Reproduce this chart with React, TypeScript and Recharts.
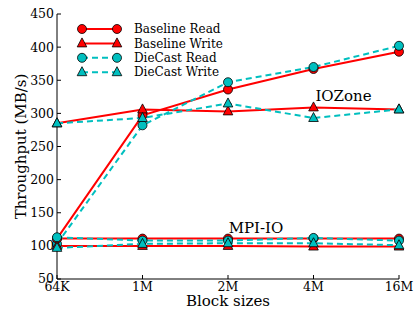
import React from 'react';
import { LineChart, Line, XAxis, YAxis, Legend, ReferenceDot, Label } from 'recharts';

// block sizes on the x axis
const blockSizes = ['64K', '1M', '2M', '4M', '16M'];
const yTicks = [50, 100, 150, 200, 250, 300, 350, 400, 450];

// IOZone runs
const iozoneBaselineRead = [111, 297, 336, 367, 393];
const iozoneBaselineWrite = [285, 306, 303, 309, 306];
const iozoneDiecastRead = [103, 282, 347, 370, 402];
const iozoneDiecastWrite = [285, 293, 315, 293, 306];

// MPI-IO runs
const mpiBaselineRead = [111, 111, 111, 111, 111];
const mpiBaselineWrite = [100, 100, 100, 99, 99];
const mpiDiecastRead = [113, 108, 108, 112, 108];
const mpiDiecastWrite = [97, 103, 104, 104, 101];

const seriesNames = ['Baseline Read', 'Baseline Write', 'DieCast Read', 'DieCast Write'];

const RED = '#ff0000';
const CYAN = '#00bfbf';
const FONT = '"DejaVu Serif", serif';

const rows = blockSizes.map((size, i) => ({
  size,
  ioBR: iozoneBaselineRead[i],
  ioBW: iozoneBaselineWrite[i],
  ioDR: iozoneDiecastRead[i],
  ioDW: iozoneDiecastWrite[i],
  mpiBR: mpiBaselineRead[i],
  mpiBW: mpiBaselineWrite[i],
  mpiDR: mpiDiecastRead[i],
  mpiDW: mpiDiecastWrite[i],
}));

const styles = [
  { color: RED, dash: undefined, marker: 'circle' },
  { color: RED, dash: undefined, marker: 'triangle' },
  { color: CYAN, dash: '6 4', marker: 'circle' },
  { color: CYAN, dash: '6 4', marker: 'triangle' },
];

const series = [
  { key: 'ioBR', style: 0 },
  { key: 'ioBW', style: 1 },
  { key: 'ioDR', style: 2 },
  { key: 'ioDW', style: 3 },
  { key: 'mpiBR', style: 0 },
  { key: 'mpiBW', style: 1 },
  { key: 'mpiDR', style: 2 },
  { key: 'mpiDW', style: 3 },
];

if (typeof document !== 'undefined') document.body.style.margin = '0';

const Triangle = ({ cx, cy, fill }: { cx: number; cy: number; fill: string }) => (
  <polygon
    points={`${cx},${cy - 5.5} ${cx + 4.8},${cy + 3.5} ${cx - 4.8},${cy + 3.5}`}
    fill={fill}
    stroke="#000"
    strokeWidth={0.8}
  />
);

const Marker = ({ cx, cy, fill, shape }: { cx: number; cy: number; fill: string; shape: string }) =>
  shape === 'circle' ? (
    <circle cx={cx} cy={cy} r={4.5} fill={fill} stroke="#000" strokeWidth={0.8} />
  ) : (
    <Triangle cx={cx} cy={cy} fill={fill} />
  );

const renderLegend = () => (
  <svg width={150} height={64}>
    {seriesNames.map((name, i) => {
      const s = styles[i];
      const y = 7 + i * 14.4;
      return (
        <g key={name}>
          <line x1={6} x2={41} y1={y} y2={y} stroke={s.color} strokeWidth={2} strokeDasharray={s.dash} />
          <Marker cx={6} cy={y} fill={s.color} shape={s.marker} />
          <Marker cx={41} cy={y} fill={s.color} shape={s.marker} />
          <text x={58} y={y} dy="0.35em" fontSize={12} fontFamily={FONT} fill="#000">
            {name}
          </text>
        </g>
      );
    })}
  </svg>
);

const tickStyle = { fill: '#000', fontSize: 12.5, fontFamily: FONT };

export default function App() {
  return (
    <LineChart width={416} height={309} data={rows} margin={{ top: 14, right: 17, bottom: 0, left: 0 }}>
      <XAxis
        dataKey="size"
        interval={0}
        height={30}
        tickSize={-4}
        tickMargin={7}
        axisLine={{ stroke: '#000' }}
        tickLine={{ stroke: '#000' }}
        tick={tickStyle}
      >
        <Label value="Block sizes" position="insideBottom" offset={3} fontSize={15} fontFamily={FONT} fill="#000" />
      </XAxis>
      <XAxis
        xAxisId="top"
        dataKey="size"
        orientation="top"
        interval={0}
        height={0}
        tickSize={-4}
        axisLine={{ stroke: '#000' }}
        tickLine={{ stroke: '#000' }}
        tickFormatter={() => ''}
      />
      <YAxis
        width={57}
        domain={[50, 450]}
        ticks={yTicks}
        interval={0}
        tickSize={-4}
        tickMargin={7}
        axisLine={{ stroke: '#000' }}
        tickLine={{ stroke: '#000' }}
        tick={tickStyle}
      >
        <Label value="Throughput (MB/s)" angle={-90} position="center" dx={-8} fontSize={15} fontFamily={FONT} fill="#000" />
      </YAxis>
      <YAxis
        yAxisId="right"
        orientation="right"
        width={0}
        domain={[50, 450]}
        ticks={yTicks}
        interval={0}
        tickSize={-4}
        axisLine={{ stroke: '#000' }}
        tickLine={{ stroke: '#000' }}
        tickFormatter={() => ''}
      />
      {series.map(({ key, style }) => {
        const s = styles[style];
        return (
          <Line
            key={key}
            dataKey={key}
            stroke={s.color}
            strokeWidth={2}
            strokeDasharray={s.dash}
            isAnimationActive={false}
            dot={(p: any) => <Marker key={`${key}-${p.index}`} cx={p.cx} cy={p.cy} fill={s.color} shape={s.marker} />}
            activeDot={false}
          />
        );
      })}
      <ReferenceDot x="4M" y={327} r={0} stroke="none" fill="none">
        <Label value="IOZone" position="center" dx={30} fontSize={15} fontFamily={FONT} fill="#000" />
      </ReferenceDot>
      <ReferenceDot x="2M" y={127} r={0} stroke="none" fill="none">
        <Label value="MPI-IO" position="center" dx={28} fontSize={15} fontFamily={FONT} fill="#000" />
      </ReferenceDot>
      <Legend
        layout="vertical"
        align="center"
        verticalAlign="middle"
        content={renderLegend}
        wrapperStyle={{ left: 76, top: 22, width: 150, height: 64 }}
      />
    </LineChart>
  );
}
